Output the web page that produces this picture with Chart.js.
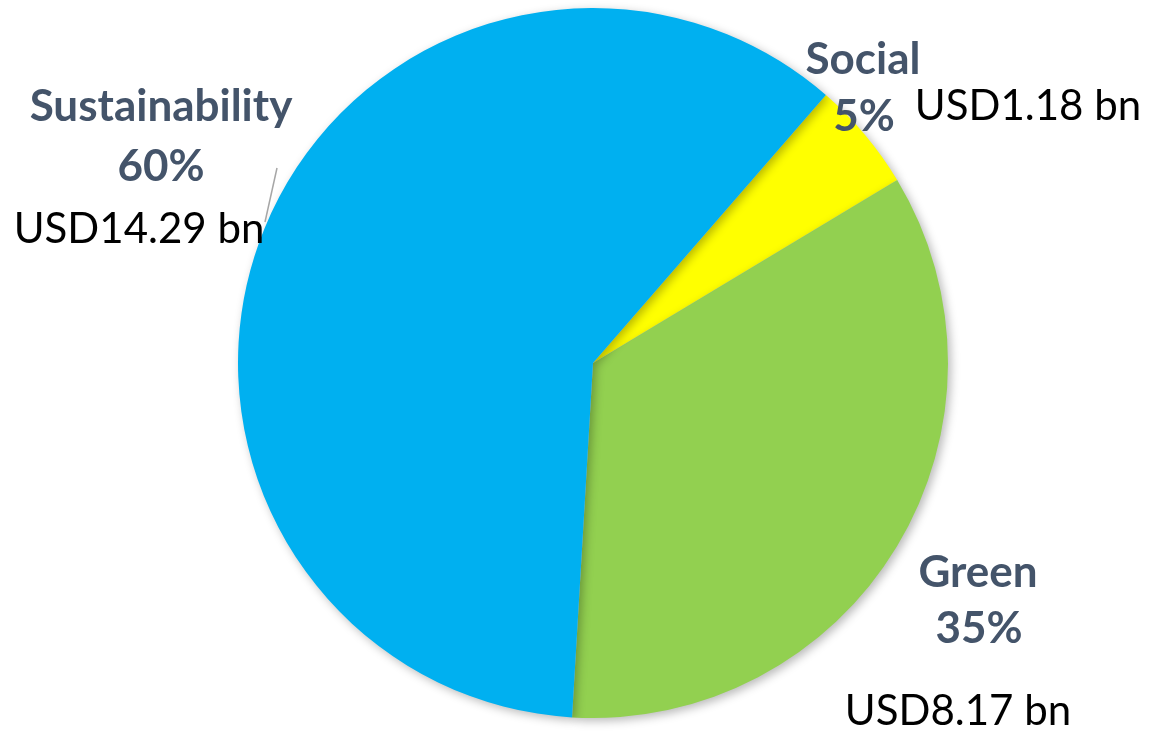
<!DOCTYPE html>
<html>
<head>
<meta charset="utf-8">
<script src="https://cdn.jsdelivr.net/npm/chart.js@4/dist/chart.umd.min.js"></script>
<style>
  html, body { margin: 0; padding: 0; background: #fff; }
  #wrap { width: 1150px; height: 731px; }
</style>
</head>
<body>
<div id="wrap"><canvas id="pieChart" width="1150" height="731"></canvas></div>
<script>
// data (USD bn)
const categories = ["Social", "Green", "Sustainability"];
const amounts = [1.18, 8.17, 14.29];
const amountLabels = ["USD1.18 bn", "USD8.17 bn", "USD14.29 bn"];
const colors = ["#FFFF00", "#92D050", "#00B0F0"];

const labelColor = "#44546A";

// where each label block sits on the canvas (name / percent / amount)
const labelSpots = [
  { name: [863, 60], pct: [864, 117], amt: [1028, 106] },
  { name: [978, 573], pct: [979, 629], amt: [958, 711] },
  { name: [161, 107], pct: [161, 167], amt: [139, 229] }
];

const total = amounts.reduce((a, b) => a + b, 0);

// soft drop shadow under the pie like the office chart
const shadowPlugin = {
  id: "pieShadow",
  beforeDatasetDraw(chart) {
    const ctx = chart.ctx;
    ctx.save();
    ctx.shadowColor = "rgba(0,0,0,0.28)";
    ctx.shadowBlur = 10;
    ctx.shadowOffsetX = 3;
    ctx.shadowOffsetY = 3;
  },
  afterDatasetDraw(chart) {
    chart.ctx.restore();
  }
};

const labelPlugin = {
  id: "sliceLabels",
  afterDraw(chart) {
    const ctx = chart.ctx;
    ctx.save();
    ctx.textAlign = "center";
    ctx.textBaseline = "middle";

    // leader line for the sustainability label
    ctx.strokeStyle = "#A6A6A6";
    ctx.lineWidth = 1.5;
    ctx.beginPath();
    ctx.moveTo(277, 168);
    ctx.lineTo(265, 222);
    ctx.stroke();

    categories.forEach((c, i) => {
      const spot = labelSpots[i];
      const pct = Math.round(amounts[i] / total * 100) + "%";
      ctx.fillStyle = labelColor;
      ctx.font = "bold 44px Lato, 'Open Sans', sans-serif";
      ctx.fillText(c, spot.name[0], spot.name[1]);
      ctx.fillText(pct, spot.pct[0], spot.pct[1]);
      ctx.fillStyle = "#000";
      ctx.font = "42px Lato, 'Open Sans', sans-serif";
      ctx.fillText(amountLabels[i], spot.amt[0], spot.amt[1]);
    });
    ctx.restore();
  }
};

const chart = new Chart(document.getElementById("pieChart"), {
  type: "pie",
  data: {
    labels: categories,
    datasets: [{
      data: amounts,
      backgroundColor: colors,
      borderWidth: 0
    }]
  },
  options: {
    responsive: false,
    animation: false,
    rotation: 41,
    layout: { padding: { left: 238, right: 202, top: 8, bottom: 13 } },
    plugins: {
      legend: { display: false },
      tooltip: { enabled: false }
    }
  },
  plugins: [shadowPlugin, labelPlugin]
});
</script>
</body>
</html>
